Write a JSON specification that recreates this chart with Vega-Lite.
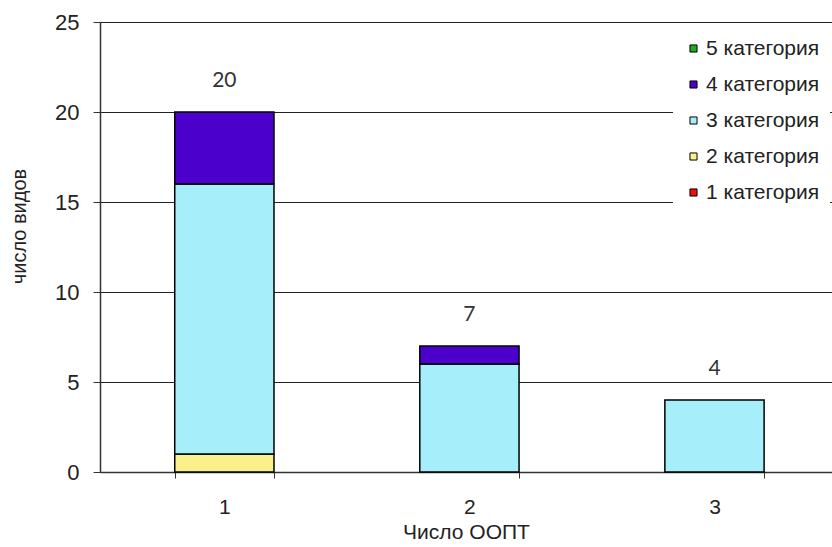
{
  "$schema": "https://vega.github.io/schema/vega-lite/v6.json",
  "width": 732,
  "height": 450,
  "autosize": {"type": "none"},
  "padding": {"left": 100, "top": 22, "right": 0, "bottom": 75},
  "background": "white",
  "data": {
    "values": [
      {"oopt": "1", "cat": "2 категория", "n": 2, "count": 1},
      {"oopt": "1", "cat": "3 категория", "n": 3, "count": 15},
      {"oopt": "1", "cat": "4 категория", "n": 4, "count": 4},
      {"oopt": "2", "cat": "3 категория", "n": 3, "count": 6},
      {"oopt": "2", "cat": "4 категория", "n": 4, "count": 1},
      {"oopt": "3", "cat": "3 категория", "n": 3, "count": 4}
    ]
  },
  "config": {
    "view": {"stroke": null},
    "axis": {"labelFont": "Liberation Sans", "titleFont": "Liberation Sans", "labelColor": "#222", "titleColor": "#222"}
  },
  "encoding": {
    "x": {
      "field": "oopt",
      "type": "nominal",
      "scale": {"paddingInner": 0.595, "paddingOuter": 0.291, "align": 0.524},
      "axis": {
        "title": "Число ООПТ",
        "titleFontSize": 21,
        "titleFontWeight": "normal",
        "titlePadding": 4,
        "labelAngle": 0,
        "labelFontSize": 21,
        "labelPadding": 18,
        "tickBand": "extent",
        "tickSize": 6,
        "tickColor": "#333",
        "domainColor": "#333",
        "domainWidth": 1.5
      }
    }
  },
  "layer": [
    {
      "mark": {"type": "bar", "stroke": "black", "strokeWidth": 1.5},
      "encoding": {
        "y": {
          "field": "count",
          "type": "quantitative",
          "stack": "zero",
          "scale": {"domain": [0, 25], "nice": false},
          "axis": {
            "title": "число видов",
            "titleFontSize": 20,
            "titleFontWeight": 500,
            "titleAngle": -90,
            "titleX": -81,
            "titleY": 204,
            "titleAlign": "center",
            "titleBaseline": "middle",
            "values": [0, 5, 10, 15, 20, 25],
            "labelFontSize": 22,
            "labelPadding": 14,
            "tickSize": 7,
            "tickColor": "#333",
            "domainColor": "#333",
            "domainWidth": 1.5,
            "grid": true,
            "gridColor": "#222",
            "gridWidth": 1
          }
        },
        "color": {
          "field": "cat",
          "type": "nominal",
          "scale": {
            "domain": ["5 категория", "4 категория", "3 категория", "2 категория", "1 категория"],
            "range": ["#22aa22", "#4b00cc", "#a6eefa", "#faf08c", "#e81010"]
          },
          "legend": {
            "title": null,
            "orient": "none",
            "legendX": 573,
            "legendY": 6,
            "fillColor": "white",
            "padding": 10,
            "symbolType": "square",
            "symbolSize": 50,
            "symbolStrokeColor": "black",
            "symbolStrokeWidth": 1,
            "symbolFillOpacity": 1,
            "labelFont": "Liberation Sans",
            "labelFontSize": 21,
            "labelColor": "#222",
            "labelOffset": 2,
            "rowPadding": 14
          }
        },
        "order": {"field": "n", "type": "quantitative", "sort": "ascending"}
      }
    },
    {
      "transform": [{"aggregate": [{"op": "sum", "field": "count", "as": "total"}], "groupby": ["oopt"]}],
      "mark": {"type": "text", "dy": -31, "fontSize": 21, "font": "Lato", "color": "#333"},
      "encoding": {
        "y": {"field": "total", "type": "quantitative"},
        "text": {"field": "total", "type": "quantitative"}
      }
    }
  ]
}
